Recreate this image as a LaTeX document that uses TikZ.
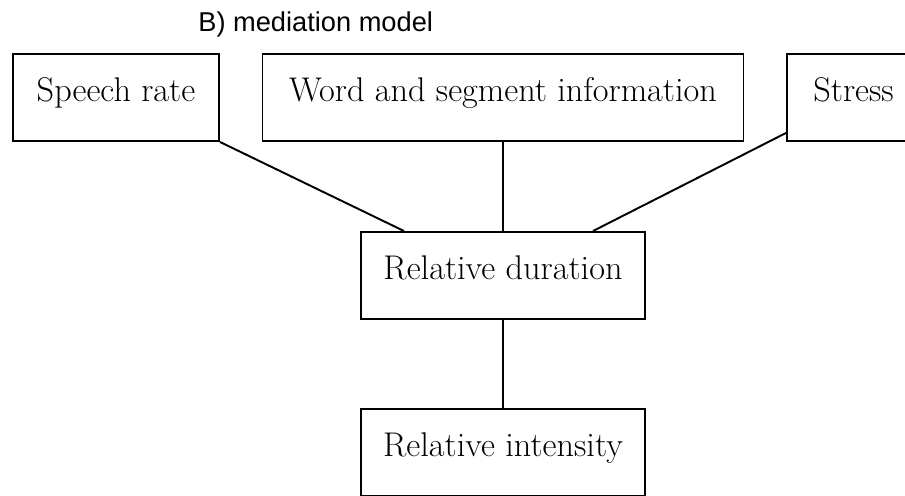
\documentclass[tikz,border=0pt]{standalone}
\usepackage{fontspec}
\newfontfamily\titlefont{Liberation Sans}
\usepackage{tikz}
\usetikzlibrary{positioning}

\begin{document}
\begin{tikzpicture}[
    box/.style={draw, line width=1.1pt, inner sep=0pt, minimum height=1.74cm,
        text height=0.68em, text depth=0.2em, font=\fontsize{19.5}{23}\selectfont},
    link/.style={line width=1.1pt}
    ]
        % \draw[very thin,color=gray] (0,0) grid (18,10);
        \path[use as bounding box, clip] (0,0) rectangle (18.1,9.9);
        \def\boxy{7.95}
        \def\midx{10.06}
        \node[anchor=base west, inner sep=0pt, font=\titlefont\fontsize{15.5}{18}\selectfont] (title) at (3.96,9.26) {B) mediation model};
        \node[box, minimum width=4.12cm] (speech) at (2.32,\boxy) {Speech rate};
        \node[box, minimum width=9.62cm] (word) at (\midx,\boxy) {Word and segment information};
        \node[box, minimum width=2.66cm] (stress) at (17.07,\boxy) {Stress};
        \node[box, minimum width=5.68cm] (dur) at (\midx,4.39) {Relative duration};
        \node[box, minimum width=5.68cm] (int) at (\midx,0.85) {Relative intensity};
        \draw[link] (speech.south east) -- ([xshift=0.88cm]dur.north west);
        \draw[link] (word.south) -- (dur.north);
        \draw[link] ([yshift=0.18cm]stress.south west) -- ([xshift=-1.06cm]dur.north east);
        \draw[link] (dur.south) -- (int.north);
    \end{tikzpicture}
\end{document}
